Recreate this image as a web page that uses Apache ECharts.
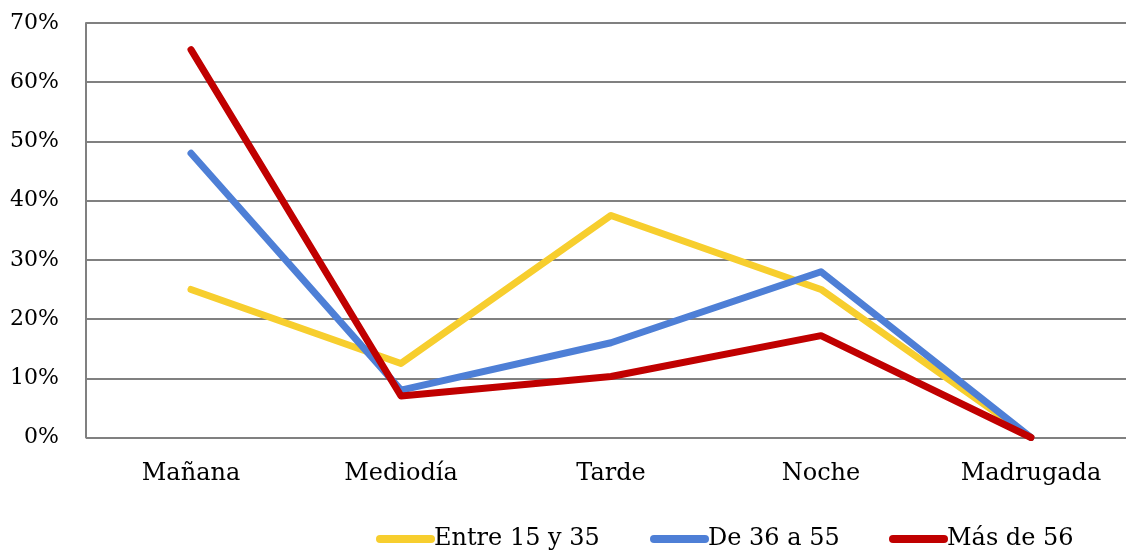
<!DOCTYPE html>
<html>
<head>
<meta charset="utf-8">
<script src="https://cdn.jsdelivr.net/npm/echarts@6/dist/echarts.min.js"></script>
<style>html,body{margin:0;padding:0;background:#fff}#c{width:1126px;height:550px}</style>
</head>
<body>
<div id="c"></div>
<script>
const categories = ['Mañana', 'Mediodía', 'Tarde', 'Noche', 'Madrugada'];
const seriesNames = ['Entre 15 y 35', 'De 36 a 55', 'Más de 56'];
const entre15y35 = [25, 12.5, 37.5, 25, 0];
const de36a55 = [48, 8, 16, 28, 0];
const masDe56 = [65.5, 7, 10.3, 17.2, 0];
const yTicks = [0, 10, 20, 30, 40, 50, 60, 70];

const colors = ['#F7CE2E', '#4E7FD6', '#C00000'];
const font = 'DejaVu Serif';
const values = [entre15y35, de36a55, masDe56];
const legendLefts = [371, 645, 884];
const chart = echarts.init(document.getElementById('c'), null, {renderer: 'canvas'});
chart.setOption({
  animation: false,
  textStyle: {fontFamily: font},
  grid: {left: 86, width: 1050, top: 23, bottom: 112.5, containLabel: false, outerBoundsMode: 'none'},
  legend: seriesNames.map((n, i) => ({
    top: 522,
    left: legendLefts[i],
    itemWidth: 59,
    itemHeight: 8,
    icon: 'path://M4,0 L55,0 A4,4 0 0 1 55,8 L4,8 A4,4 0 0 1 4,0 Z',
    textStyle: {fontFamily: font, fontSize: 24, color: '#000', padding: [0, 0, 0, -6]},
    data: [n]
  })),
  xAxis: {
    type: 'category',
    data: categories,
    boundaryGap: true,
    axisLine: {show: false},
    axisTick: {show: false},
    axisLabel: {fontFamily: font, fontSize: 24, color: '#000', margin: 24}
  },
  yAxis: {
    type: 'value',
    min: yTicks[0],
    max: yTicks[yTicks.length - 1],
    interval: 10,
    axisLine: {show: true, lineStyle: {color: '#808080', width: 2}},
    axisTick: {show: false},
    splitLine: {lineStyle: {color: '#808080', width: 2}},
    axisLabel: {fontFamily: font, fontSize: 22, color: '#000', margin: 27, formatter: v => v + '%'}
  },
  series: values.map((d, i) => ({
    name: seriesNames[i],
    type: 'line',
    data: d,
    showSymbol: false,
    symbol: 'none',
    itemStyle: {color: colors[i]},
    lineStyle: {color: colors[i], width: 7, cap: 'round', join: 'round'}
  }))
});
</script>
</body>
</html>
